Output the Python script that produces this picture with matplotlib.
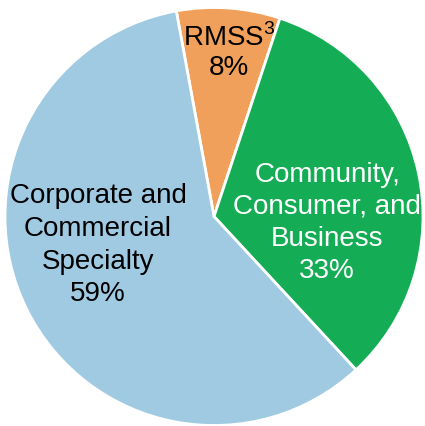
import matplotlib
matplotlib.use("Agg")
import matplotlib.pyplot as plt

plt.rcParams["font.family"] = ["Liberation Sans", "DejaVu Sans"]
plt.rcParams["mathtext.fontset"] = "custom"
plt.rcParams["mathtext.rm"] = "Liberation Sans"

segments = ["RMSS$^{\\mathrm{3}}$", "Community,\nConsumer, and\nBusiness", "Corporate and\nCommercial\nSpecialty"]
shares = [8, 33, 59]
colors = ["#F0A05A", "#14AD55", "#9FCAE2"]
text_colors = ["black", "white", "black"]
label_pos = [(0.072, 0.785), (0.541, -0.03), (-0.555, -0.138)]
spacing = [1.15, 1.3, 1.33]

R = 209.0
fig = plt.figure(figsize=(4.25, 4.26), dpi=100)
ax = fig.add_axes([0, 0, 1, 1])
wedges, _ = ax.pie(shares, colors=colors, startangle=100.4, counterclock=False,
                   radius=1.0, wedgeprops=dict(edgecolor="white", linewidth=2))

for name, val, (x, y), tc, ls in zip(segments, shares, label_pos, text_colors, spacing):
    ax.text(x, y, f"{name}\n{val}%", ha="center", va="center", color=tc,
            fontsize=20, linespacing=ls)

ax.set_xlim(-214 / R, 211 / R)
ax.set_ylim(-209.5 / R, 216.5 / R)
ax.set_aspect("auto")
ax.axis("off")
fig.savefig("out.png", dpi=100)
